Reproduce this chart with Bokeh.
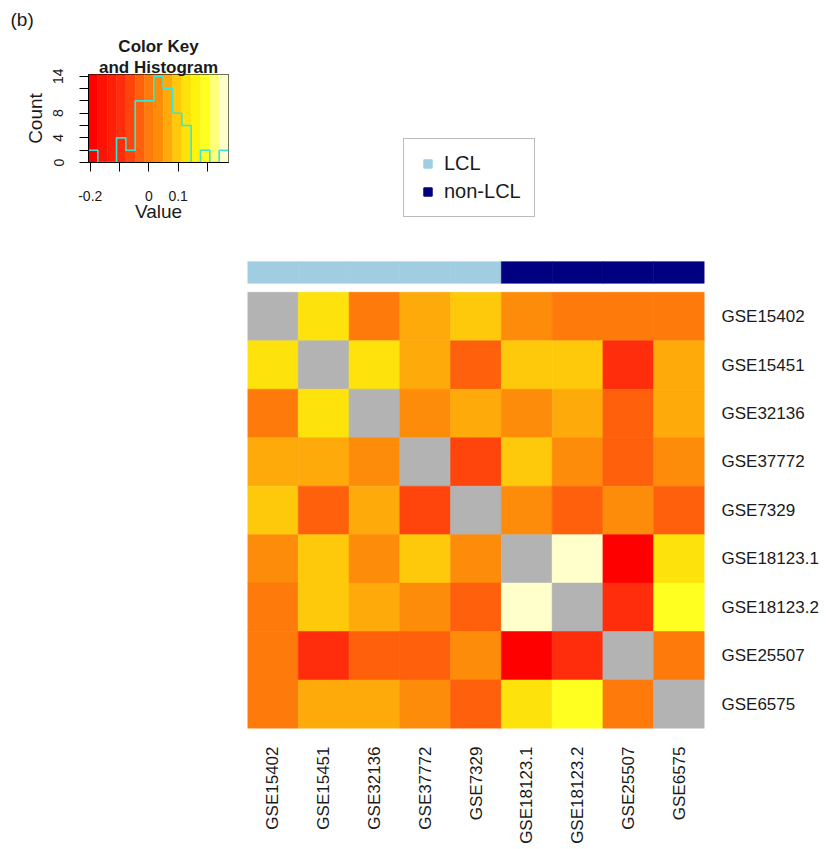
import math
import numpy as np
from bokeh.plotting import figure
from bokeh.models import (Range1d, FactorRange, LinearColorMapper, ColumnDataSource,
                          FixedTicker, Title, Legend, LegendItem)
from bokeh.transform import transform, factor_cmap
from bokeh.layouts import row
from bokeh.embed import file_html
from bokeh.resources import INLINE

# ---------------- data ----------------
samples = ["GSE15402", "GSE15451", "GSE32136", "GSE37772", "GSE7329",
           "GSE18123.1", "GSE18123.2", "GSE25507", "GSE6575"]
sample_groups = ["LCL", "LCL", "LCL", "LCL", "LCL",
                 "non-LCL", "non-LCL", "non-LCL", "non-LCL"]
group_names = ["LCL", "non-LCL"]
group_colors = ["#A0CEE0", "#000080"]

# correlation between data sets (diagonal = NA)
corr_GSE15402   = [None, 0.127, 0.002, 0.066, 0.098, 0.031, -0.004, 0.001, 0.003]
corr_GSE15451   = [0.127, None, 0.130, 0.063, -0.029, 0.096, 0.099, -0.094, 0.067]
corr_GSE32136   = [0.002, 0.130, None, 0.034, 0.064, 0.032, 0.065, -0.031, 0.062]
corr_GSE37772   = [0.066, 0.063, 0.034, None, -0.062, 0.095, 0.035, -0.032, 0.030]
corr_GSE7329    = [0.098, -0.029, 0.064, -0.062, None, 0.033, -0.028, 0.036, -0.030]
corr_GSE18123_1 = [0.031, 0.096, 0.032, 0.095, 0.033, None, 0.272, -0.206, 0.125]
corr_GSE18123_2 = [-0.004, 0.099, 0.065, 0.035, -0.028, 0.272, None, -0.097, 0.190]
corr_GSE25507   = [0.001, -0.094, -0.031, -0.032, 0.036, -0.206, -0.097, None, -0.002]
corr_GSE6575    = [0.003, 0.067, 0.062, 0.030, -0.030, 0.125, 0.190, -0.002, None]

palette = ["#FF0000", "#FF1206", "#FF1F09", "#FF2D0B", "#FF450B", "#FE600B",
           "#FE7A0A", "#FE8C0B", "#FEAA0B", "#FFC90B", "#FDE30B", "#FFF20B",
           "#FFFF20", "#FFFF78", "#FFFFCC"]
na_color = "#B3B3B3"

key_x_ticks = [-0.2, -0.1, 0, 0.1, 0.2]
key_x_labels = ["-0.2", "", "0", "0.1", ""]
key_y_ticks = [0, 2, 4, 6, 8, 10, 12, 14]
key_y_labels = ["0", "", "4", "", "8", "", "", "14"]

# ---------------- derived ----------------
rows = [corr_GSE15402, corr_GSE15451, corr_GSE32136, corr_GSE37772, corr_GSE7329,
        corr_GSE18123_1, corr_GSE18123_2, corr_GSE25507, corr_GSE6575]
M = np.array([[np.nan if v is None else v for v in r] for r in rows], dtype=float)
vals = M[~np.isnan(M)]
vmin, vmax = float(vals.min()), float(vals.max())
counts, edges = np.histogram(vals, bins=len(palette), range=(vmin, vmax))

mapper = LinearColorMapper(palette=palette, low=vmin, high=vmax, nan_color=na_color)

FONT = "Liberation Sans"
TXT = "#1a1a1a"

# shared vertical borders (the row aligns plot frames)
TOP_B = 74
BOT_B = 116

# ---------------- colour key + histogram ----------------
KEY_FRAME_H = 90
ymax_key = float(counts.max()) * 1.02
key = figure(width=240, height=TOP_B + KEY_FRAME_H + BOT_B,
             x_range=Range1d(vmin, vmax), y_range=Range1d(0, ymax_key),
             output_backend="svg", toolbar_location=None,
             min_border_left=88, min_border_right=12, min_border_top=TOP_B,
             min_border_bottom=BOT_B)
key.grid.visible = False
key.outline_line_color = "black"
key.outline_line_width = 1

band_src = ColumnDataSource(dict(left=edges[:-1], right=edges[1:],
                                 mid=(edges[:-1] + edges[1:]) / 2))
key.quad(left="left", right="right", bottom=0, top=ymax_key, source=band_src,
         fill_color=transform("mid", mapper), line_color=transform("mid", mapper),
         line_width=0.5)
key.step(x=edges, y=np.append(counts, counts[-1]), mode="after",
         line_color="#33E8D8", line_width=1.6)

for ax in (key.xaxis[0], key.yaxis[0]):
    ax.major_tick_in = 0
    ax.major_tick_out = 9
    ax.minor_tick_line_color = None
    ax.major_tick_line_color = "black"
    ax.axis_line_color = "black"
    ax.major_label_text_font = FONT
    ax.major_label_text_font_size = "14px"
    ax.major_label_text_color = TXT
    ax.axis_label_text_font = FONT
    ax.axis_label_text_font_size = "19px"
    ax.axis_label_text_font_style = "normal"
    ax.axis_label_text_color = TXT

key.xaxis.ticker = FixedTicker(ticks=key_x_ticks)
key.xaxis.major_label_overrides = dict(zip(key_x_ticks, key_x_labels))
key.xaxis.axis_label = "Value"
key.xaxis.major_label_standoff = 19
key.xaxis.axis_label_standoff = -3

key.yaxis.ticker = FixedTicker(ticks=key_y_ticks)
key.yaxis.major_label_overrides = dict(zip(key_y_ticks, key_y_labels))
key.yaxis.major_label_orientation = "parallel"
key.yaxis.axis_label = "Count"
key.yaxis.major_label_standoff = 16
key.yaxis.axis_label_standoff = 5

# titles stacked above the key (first added sits closest to the frame)
key.add_layout(Title(text="and Histogram", align="center", standoff=-4,
                     text_font=FONT, text_font_size="17px", text_font_style="bold",
                     text_color=TXT), "above")
key.add_layout(Title(text="Color Key", align="center", standoff=3,
                     text_font=FONT, text_font_size="17px", text_font_style="bold",
                     text_color=TXT), "above")
key.add_layout(Title(text="(b)", align="left", offset=-78, standoff=7,
                     text_font=FONT, text_font_size="19px", text_font_style="normal",
                     text_color=TXT), "above")

# ---------------- heatmap ----------------
n = len(samples)
ROW_PX = 437.5 / n
HEAT_FRAME_H = 656
HEAT_TOP = HEAT_FRAME_H / ROW_PX
BAR_Y = 9.41
BAR_H = 0.445

heat = figure(width=7 + 458 + 116, height=TOP_B + HEAT_FRAME_H + BOT_B,
              x_range=FactorRange(factors=samples), y_range=Range1d(0, HEAT_TOP),
              y_axis_location="right", output_backend="svg", toolbar_location=None,
              min_border_left=7, min_border_top=TOP_B, min_border_right=116,
              min_border_bottom=BOT_B)
heat.grid.visible = False
heat.outline_line_color = None

cx, cy, cv = [], [], []
for i in range(n):
    for j in range(n):
        cx.append(samples[j])
        cy.append(n - 1 - i + 0.5)
        cv.append(M[i, j])
cell_src = ColumnDataSource(dict(x=cx, y=cy, val=cv))
heat.rect(x="x", y="y", width=1, height=1, source=cell_src,
          fill_color=transform("val", mapper), line_color=transform("val", mapper),
          line_width=0.6)

bar_src = ColumnDataSource(dict(x=samples, group=sample_groups))
bar_cmap = factor_cmap("group", group_colors, group_names)
heat.rect(x="x", y=BAR_Y, width=1, height=BAR_H, source=bar_src,
          fill_color=bar_cmap, line_color=bar_cmap, line_width=0.6)

# invisible markers (size 0) that give the legend its small squares
leg_r = heat.scatter(x="x", y=BAR_Y, size=0, marker="square", source=bar_src,
                     fill_color=bar_cmap, line_color=bar_cmap)
first_idx = [sample_groups.index(g) for g in group_names]
legend = Legend(items=[LegendItem(label=g, renderers=[leg_r], index=k)
                       for g, k in zip(group_names, first_idx)],
                location=(156, 511), glyph_width=21, glyph_height=21, label_height=21,
                label_standoff=6, padding=13, spacing=5, margin=0,
                label_text_font=FONT, label_text_font_size="20px", label_text_color=TXT,
                border_line_color="#777777", border_line_width=1.5,
                background_fill_color="white", background_fill_alpha=1.0)
heat.add_layout(legend)

xa = heat.xaxis[0]
xa.major_label_orientation = math.pi / 2
xa.major_label_standoff = 18
xa.major_tick_in = 0
xa.major_tick_out = 0
xa.major_tick_line_color = None
xa.axis_line_color = None
xa.major_label_text_font = FONT
xa.major_label_text_font_size = "17px"
xa.major_label_text_color = TXT

row_ticks = [n - 1 - i + 0.5 for i in range(n)]
ya = heat.yaxis[0]
ya.ticker = FixedTicker(ticks=row_ticks)
ya.major_label_overrides = dict(zip(row_ticks, samples))
ya.major_label_standoff = 17
ya.major_tick_in = 0
ya.major_tick_out = 0
ya.major_tick_line_color = None
ya.minor_tick_line_color = None
ya.axis_line_color = None
ya.major_label_text_font = FONT
ya.major_label_text_font_size = "17px"
ya.major_label_text_color = TXT

layout = row(key, heat)
open("out.html", "w").write(file_html(layout, INLINE))
